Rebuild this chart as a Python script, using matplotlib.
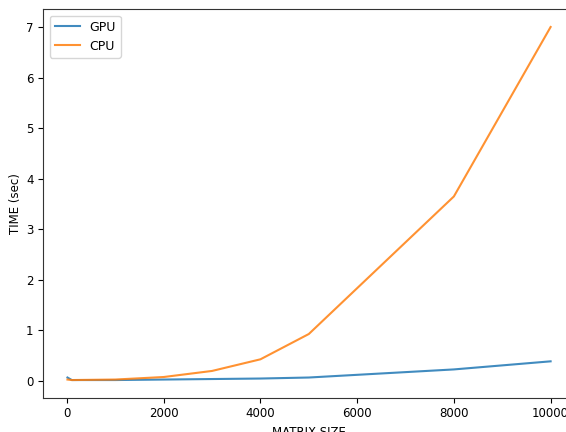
import matplotlib
matplotlib.use("Agg")
import matplotlib.pyplot as plt

matrix_size = [10, 100, 1000, 2000, 3000, 4000, 5000, 8000, 10000]
gpu_time = [0.07, 0.02, 0.02, 0.03, 0.04, 0.05, 0.07, 0.23, 0.39]
cpu_time = [0.03, 0.02, 0.03, 0.08, 0.20, 0.43, 0.93, 3.65, 7.0]

plt.rcParams.update({"font.size": 8.5})

fig = plt.figure(figsize=(5.66, 4.32), dpi=100)
ax = fig.add_axes([0.0765, 0.0794, 0.939, 0.899])

ax.plot(matrix_size, gpu_time, label="GPU", alpha=0.85)
ax.plot(matrix_size, cpu_time, label="CPU", alpha=0.85)

ax.set_xlabel("MATRIX SIZE", labelpad=4)
ax.set_ylabel("TIME (sec)", labelpad=3)
ax.legend(loc="upper left", fontsize=9)
for s in ax.spines.values():
    s.set_color("#333333")

fig.savefig("out.png", dpi=100)
